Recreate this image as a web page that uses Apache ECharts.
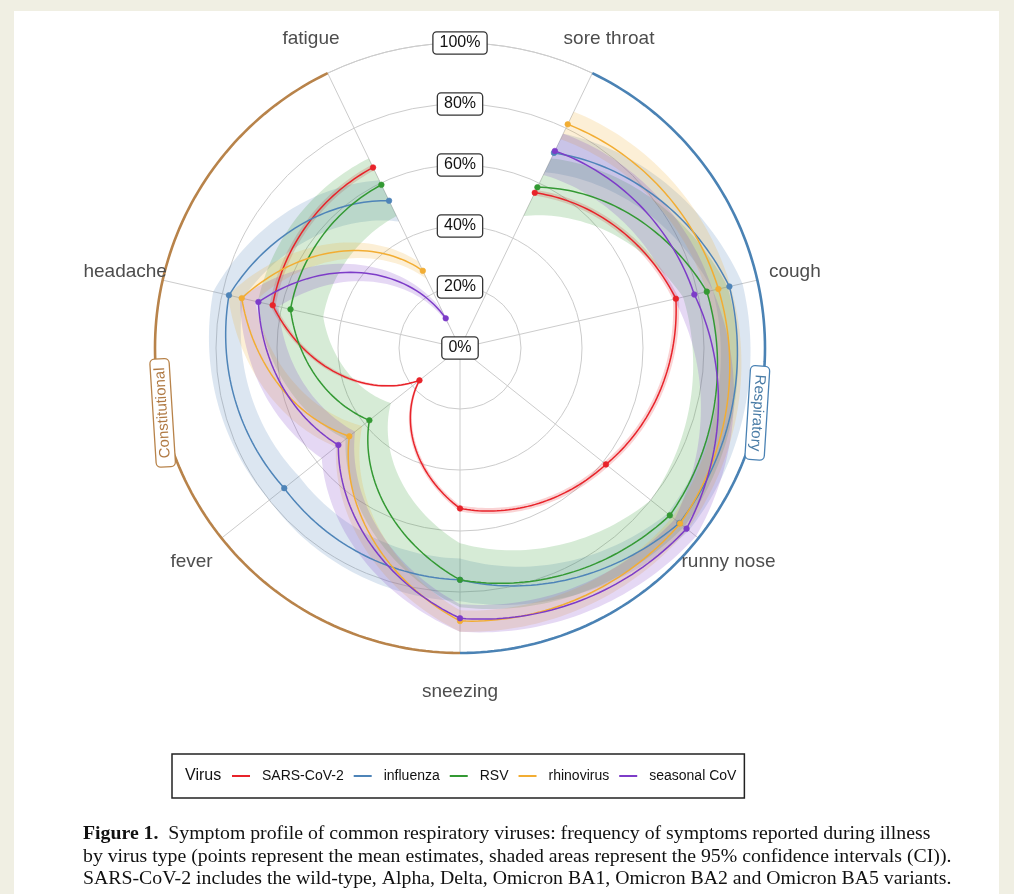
<!DOCTYPE html>
<html><head><meta charset="utf-8">
<script src="https://cdn.jsdelivr.net/npm/echarts@6/dist/echarts.min.js"></script>
<style>
html,body{margin:0;padding:0;background:#f0efe3;}
#chart{position:absolute;left:0;top:0;width:1014px;height:894px;}
</style></head>
<body><div id="chart"></div>
<script>
// ---- data (percent of cases reporting each symptom) ----
const symptoms = ['sore throat', 'cough', 'runny nose', 'sneezing', 'fever', 'headache', 'fatigue'];
const viruses = ['SARS-CoV-2', 'influenza', 'RSV', 'rhinovirus', 'seasonal CoV'];
const radialTicks = [0, 20, 40, 60, 80, 100];

const sarsMean = [56.5, 72.6, 61.2, 52.6, 17.0, 63.0, 65.7];
const sarsLow  = [55.5, 71.6, 60.2, 51.6, 16.2, 62.0, 64.7];
const sarsHigh = [57.5, 73.6, 62.2, 53.6, 17.8, 64.0, 66.7];

const fluMean = [71.0, 90.6, 92.0, 76.0, 73.7, 77.7, 53.6];
const fluLow  = [64.0, 85.0, 87.0, 69.0, 67.5, 73.0, 46.0];
const fluHigh = [78.0, 95.0, 96.0, 83.0, 80.0, 83.0, 61.0];

const rsvMean = [58.5, 83.0, 88.0, 76.0, 38.0, 57.0, 59.4];
const rsvLow  = [48.0, 75.0, 80.0, 64.0, 29.0, 46.0, 48.0];
const rsvHigh = [69.0, 90.0, 94.0, 85.0, 48.0, 68.0, 69.0];

const rhinoMean = [81.4, 86.9, 92.3, 89.5, 46.4, 73.4, 28.1];
const rhinoLow  = [76.0, 83.0, 89.0, 86.0, 41.0, 69.0, 25.0];
const rhinoHigh = [86.0, 91.0, 95.5, 93.0, 52.0, 78.0, 31.5];

const covMean = [71.7, 78.8, 95.0, 88.6, 51.0, 67.8, 10.8];
const covLow  = [63.0, 72.0, 90.0, 84.0, 44.0, 61.0, 8.0];
const covHigh = [78.0, 85.0, 99.0, 93.0, 58.0, 74.0, 14.0];

const groupNames = ['Respiratory', 'Constitutional'];
const groupFrom = [0, 3];
const groupTo = [3, 6];

const captionBold = 'Figure 1.';
const captionLines = [
  '  Symptom profile of common respiratory viruses: frequency of symptoms reported during illness',
  'by virus type (points represent the mean estimates, shaded areas represent the 95% confidence intervals (CI)).',
  'SARS-CoV-2 includes the wild-type, Alpha, Delta, Omicron BA1, Omicron BA2 and Omicron BA5 variants.'
];

// ---- styles ----
const virusColors = ['#e8232a', '#4e84b8', '#339933', '#f2ad33', '#7d3cc8'];
const groupColors = ['#4a82b4', '#b8834a'];
const groupText = ['#4a7ca6', '#b07a44'];
const SANS = 'Liberation Sans, Arial, sans-serif';
const SERIF = 'Liberation Serif, Times New Roman, serif';

const virusData = [
  [sarsMean, sarsLow, sarsHigh],
  [fluMean, fluLow, fluHigh],
  [rsvMean, rsvLow, rsvHigh],
  [rhinoMean, rhinoLow, rhinoHigh],
  [covMean, covLow, covHigh]
];

const STEPS = 40;
function pathPts(api, vals) {
  const pts = [];
  for (let k = 0; k < vals.length - 1; k++) {
    for (let s = 0; s < STEPS; s++) {
      const t = s / STEPS;
      pts.push(api.coord([vals[k] + (vals[k + 1] - vals[k]) * t, k + t]));
    }
  }
  pts.push(api.coord([vals[vals.length - 1], vals.length - 1]));
  return pts;
}

function hexA(hex, a) {
  const n = parseInt(hex.slice(1), 16);
  return 'rgba(' + (n >> 16 & 255) + ',' + (n >> 8 & 255) + ',' + (n & 255) + ',' + a + ')';
}

const series = [];
virusData.forEach((vd, i) => {
  const col = virusColors[i];
  series.push({
    type: 'custom',
    name: viruses[i],
    coordinateSystem: 'polar',
    data: [[0, 0]],
    silent: true,
    itemStyle: { color: col },
    renderItem: function (params, api) {
      const mean = vd[0], low = vd[1], high = vd[2];
      const up = pathPts(api, high);
      const lo = pathPts(api, low).reverse();
      const children = [];
      children.push({
        type: 'polygon', z2: 1 + i,
        shape: { points: up.concat(lo) },
        style: { fill: hexA(col, 0.2), stroke: null }
      });
      children.push({
        type: 'polyline', z2: 20 + i,
        shape: { points: pathPts(api, mean) },
        style: { stroke: col, lineWidth: 1.5, fill: null }
      });
      mean.forEach((v, k) => {
        const p = api.coord([v, k]);
        children.push({
          type: 'circle', z2: 40 + i,
          shape: { cx: p[0], cy: p[1], r: 2.8 },
          style: { fill: col, stroke: hexA(col, 0.6), lineWidth: 1 }
        });
      });
      return { type: 'group', children: children };
    }
  });
});

// group brackets + labels
series.push({
  type: 'custom',
  name: 'groups',
  coordinateSystem: 'polar',
  data: [[0, 0]],
  silent: true,
  renderItem: function (params, api) {
    const children = [];
    groupNames.forEach((g, gi) => {
      const pts = [];
      const a0 = groupFrom[gi], a1 = groupTo[gi];
      for (let s = 0; s <= 120; s++) {
        pts.push(api.coord([100, a0 + (a1 - a0) * s / 120]));
      }
      children.push({
        type: 'polyline', z2: 60,
        shape: { points: pts },
        style: { stroke: groupColors[gi], lineWidth: 2.6, fill: null }
      });
      const mid = api.coord([100, (a0 + a1) / 2]);
      children.push({
        type: 'text', z2: 61,
        x: mid[0], y: mid[1] - 3,
        rotation: (gi === 0 ? -93.6 : 93.6) * Math.PI / 180,
        style: {
          text: g, fontFamily: SANS, fontSize: 15,
          fill: groupText[gi], align: 'center', verticalAlign: 'middle',
          backgroundColor: '#fff', borderColor: groupColors[gi], borderWidth: 1.3,
          borderRadius: 4, padding: [2, 8, 1, 8]
        }
      });
    });
    // radial tick labels at the top gap
    radialTicks.forEach((v) => {
      const p = api.coord([v, 6.5]);
      children.push({
        type: 'text', z2: 70,
        x: p[0], y: p[1],
        style: {
          text: v + '%', fontFamily: SANS, fontSize: 16,
          fill: '#111', align: 'center', verticalAlign: 'middle',
          backgroundColor: '#fff', borderColor: '#333', borderWidth: 1.3,
          borderRadius: 3, padding: [3, 6, 2, 6]
        }
      });
    });
    // symptom labels
    symptoms.forEach((s, k) => {
      const p = api.coord([112.6, k]);
      children.push({
        type: 'text', z2: 70,
        x: p[0], y: p[1],
        style: {
          text: s, fontFamily: SANS, fontSize: 19,
          fill: '#4d4d4d', align: 'center', verticalAlign: 'middle'
        }
      });
    });
    return { type: 'group', children: children };
  }
});

const chart = echarts.init(document.getElementById('chart'), null, { renderer: 'canvas' });
chart.setOption({
  animation: false,
  backgroundColor: 'transparent',
  polar: { center: [460, 348], radius: 305 },
  angleAxis: {
    type: 'value', min: 0, max: 7, interval: 1,
    startAngle: 90 - 180 / 7, clockwise: true,
    axisLine: { show: true, lineStyle: { color: '#cccccc', width: 1 } },
    axisTick: { show: false }, axisLabel: { show: false },
    splitLine: { show: true, lineStyle: { color: '#cccccc', width: 1 } }
  },
  radiusAxis: {
    type: 'value', min: 0, max: 100, interval: 20,
    axisLine: { show: false }, axisTick: { show: false }, axisLabel: { show: false },
    splitLine: { show: true, lineStyle: { color: '#cccccc', width: 1 } }
  },
  legend: {
    left: 172, top: 754,
    orient: 'horizontal',
    backgroundColor: '#fff',
    borderColor: '#222', borderWidth: 1.5,
    padding: [15, 8, 15, 60],
    itemWidth: 18, itemHeight: 2, itemGap: 10,
    selectedMode: false,
    icon: 'rect',
    textStyle: { fontFamily: SANS, fontSize: 14, color: '#111', padding: [0, 0, 0, 7] },
    data: viruses.map((v, i) => ({ name: v, icon: 'rect', itemStyle: { color: virusColors[i] } }))
  },
  graphic: [
    { type: 'rect', z: -10, shape: { x: 14, y: 11, width: 985, height: 883 }, style: { fill: '#ffffff' } },
    { type: 'text', z: 10, left: 185, top: 768,
      style: { text: 'Virus', fontFamily: SANS, fontSize: 16, fill: '#111' } },
    { type: 'text', left: 83, top: 824,
      style: {
        rich: { b: { fontWeight: 'bold', fontFamily: SERIF, fontSize: 19.8, fill: '#111' },
                n: { fontFamily: SERIF, fontSize: 19.8, fill: '#111' } },
        text: '{b|' + captionBold + '}{n|' + captionLines[0] + '}'
      } },
    { type: 'text', left: 83, top: 847,
      style: { text: captionLines[1], fontFamily: SERIF, fontSize: 19.8, fill: '#111' } },
    { type: 'text', left: 83, top: 869,
      style: { text: captionLines[2], fontFamily: SERIF, fontSize: 19.8, fill: '#111' } }
  ],
  series: series
});
</script>
</body></html>
